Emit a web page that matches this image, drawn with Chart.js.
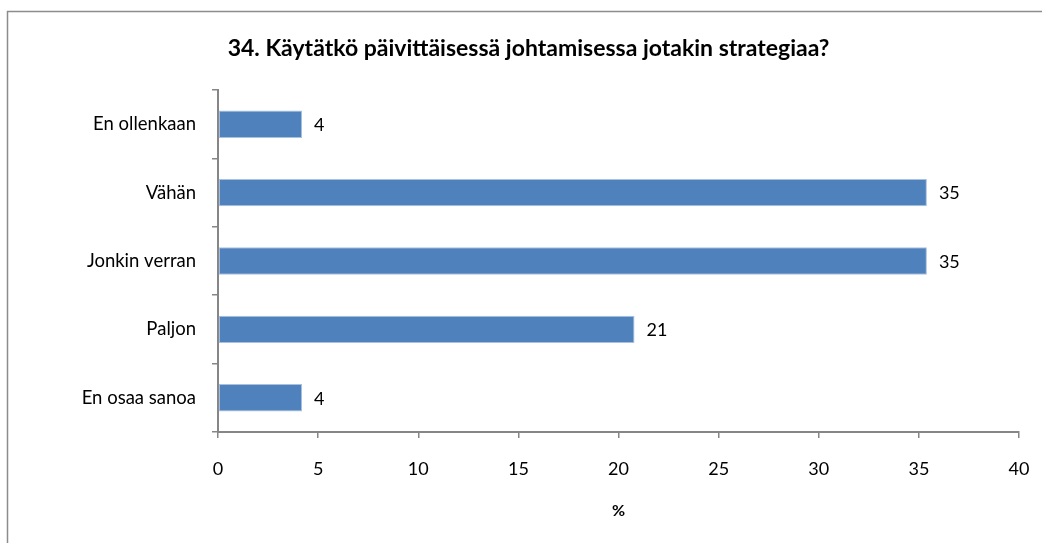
<!DOCTYPE html>
<html>
<head>
<meta charset="utf-8">
<script src="https://cdn.jsdelivr.net/npm/chart.js@4"></script>
<style>
html,body{margin:0;padding:0;background:#fff;}
#wrap{position:relative;width:1042px;height:543px;}
</style>
</head>
<body>
<div id="wrap"><canvas id="c" width="1042" height="543"></canvas></div>
<script>
const categories = ["En ollenkaan", "Vähän", "Jonkin verran", "Paljon", "En osaa sanoa"];
const values = [4.2, 35.4, 35.4, 20.8, 4.2];
const xTicks = [0, 5, 10, 15, 20, 25, 30, 35, 40];
const titleText = "34. Käytätkö päivittäisessä johtamisessa jotakin strategiaa?";
const xTitle = "%";

const FONT = "Lato, 'Open Sans', sans-serif";
const AXIS = "#868686";

const frame = {
  id: 'frame',
  beforeDraw(chart) {
    const ctx = chart.ctx;
    ctx.save();
    ctx.fillStyle = '#fff';
    ctx.fillRect(0, 0, chart.width, chart.height);
    ctx.strokeStyle = '#8c8c8c';
    ctx.lineWidth = 1.5;
    ctx.strokeRect(7.5, 11.5, 1200, 700);
    ctx.restore();
  }
};

const valueLabels = {
  id: 'valueLabels',
  afterDatasetsDraw(chart) {
    const ctx = chart.ctx;
    const meta = chart.getDatasetMeta(0);
    ctx.save();
    ctx.font = "18px " + FONT;
    ctx.fillStyle = '#000';
    ctx.textAlign = 'left';
    ctx.textBaseline = 'middle';
    meta.data.forEach((bar, i) => {
      ctx.fillText(String(Math.round(values[i])), bar.x + 12, bar.y + 1);
    });
    ctx.restore();
  }
};

new Chart(document.getElementById('c'), {
  type: 'bar',
  data: {
    labels: categories,
    datasets: [{
      data: values,
      backgroundColor: '#4F81BD',
      borderColor: '#A9C1DF',
      borderWidth: 1,
      borderSkipped: false,
      categoryPercentage: 1.0,
      barPercentage: 0.4
    }]
  },
  options: {
    indexAxis: 'y',
    responsive: false,
    animation: false,
    layout: { padding: { left: 38, right: 23, top: 0, bottom: 0 } },
    plugins: {
      legend: { display: false },
      tooltip: { enabled: false },
      title: {
        display: true,
        text: titleText,
        color: '#000',
        font: { family: FONT, size: 23, weight: 'bold', lineHeight: 1.2 },
        padding: { top: 34.5, bottom: 27.9 }
      }
    },
    scales: {
      x: {
        type: 'linear',
        min: 0,
        max: 40,
        afterBuildTicks(scale) { scale.ticks = xTicks.map(v => ({ value: v })); },
        afterFit(scale) { scale.height = 111; scale.paddingRight = 0; scale.paddingLeft = 0; },
        grid: { display: true, drawOnChartArea: false, drawTicks: true, tickLength: 6, color: AXIS, lineWidth: 1.5 },
        border: { display: true, color: AXIS, width: 2 },
        ticks: { color: '#000', font: { family: FONT, size: 18 }, padding: 20, maxRotation: 0 },
        title: {
          display: true, text: xTitle, color: '#000',
          font: { family: FONT, size: 16, weight: 'bold', lineHeight: 1.2 },
          padding: { top: 0, bottom: 23 }
        }
      },
      y: {
        afterFit(scale) { scale.width = 180; },
        grid: { display: true, offset: true, drawOnChartArea: false, drawTicks: true, tickLength: 6, color: AXIS, lineWidth: 1.5 },
        border: { display: true, color: AXIS, width: 2 },
        ticks: { color: '#000', font: { family: FONT, size: 18.5 }, padding: 16 }
      }
    }
  },
  plugins: [frame, valueLabels]
});
</script>
</body>
</html>
